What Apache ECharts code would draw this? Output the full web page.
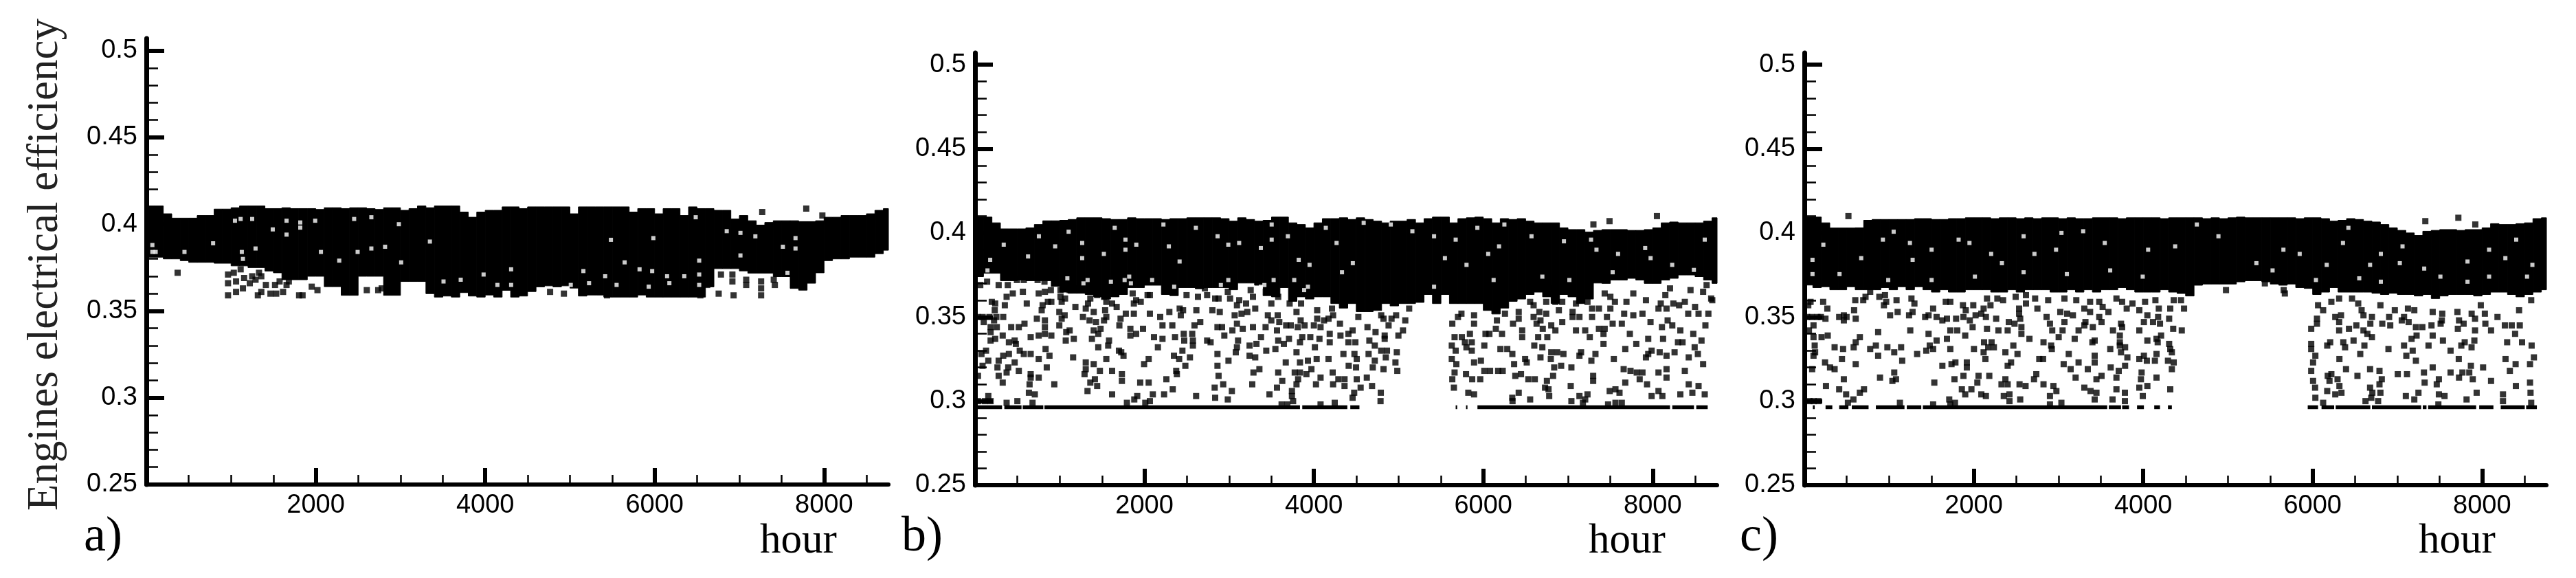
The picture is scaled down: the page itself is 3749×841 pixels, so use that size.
<!DOCTYPE html>
<html><head><meta charset="utf-8">
<script src="https://cdn.jsdelivr.net/npm/echarts@6/dist/echarts.min.js"></script>
<style>html,body{margin:0;padding:0;background:#fff}#c{width:3749px;height:841px}</style></head>
<body><div id="c"></div>
<script>
const yTicks=[0.25,0.3,0.35,0.4,0.45,0.5];
const yMinor=[0.26,0.27,0.28,0.29,0.31,0.32,0.33,0.34,0.36,0.37,0.38,0.39,0.41,0.42,0.43,0.44,0.46,0.47,0.48,0.49];
const xTicks=[2000,4000,6000,8000];
const xMinor=[500,1000,1500,2500,3000,3500,4500,5000,5500,6500,7000,7500,8500];
const bandHours=[0,100,200,300,400,500,600,700,800,900,1000,1100,1200,1300,1400,1500,1600,1700,1800,1900,2000,2100,2200,2300,2400,2500,2600,2700,2800,2900,3000,3100,3200,3300,3400,3500,3600,3700,3800,3900,4000,4100,4200,4300,4400,4500,4600,4700,4800,4900,5000,5100,5200,5300,5400,5500,5600,5700,5800,5900,6000,6100,6200,6300,6400,6500,6600,6700,6800,6900,7000,7100,7200,7300,7400,7500,7600,7700,7800,7900,8000,8100,8200,8300,8400,8500,8600,8700];
const topA=[.4105,.4105,.406,.4035,.4035,.4035,.405,.405,.4087,.4087,.4095,.4105,.4105,.4105,.409,.409,.4095,.409,.409,.409,.4085,.4095,.4095,.409,.4095,.4095,.409,.4085,.4095,.4095,.408,.409,.4105,.4095,.4105,.4105,.4105,.407,.404,.407,.408,.408,.41,.41,.409,.41,.41,.41,.41,.41,.406,.41,.41,.41,.41,.41,.41,.407,.409,.409,.406,.409,.409,.405,.41,.409,.409,.408,.408,.403,.405,.402,.3995,.401,.402,.402,.402,.4015,.4015,.402,.404,.404,.405,.405,.405,.406,.408,.409];
const botA=[.381,.381,.38,.38,.379,.378,.378,.378,.3775,.3775,.376,.376,.375,.375,.373,.372,.368,.368,.368,.37,.37,.364,.364,.359,.359,.37,.37,.37,.359,.359,.367,.367,.367,.36,.358,.3586,.358,.3606,.3586,.358,.3592,.358,.3619,.358,.3586,.3612,.3639,.3645,.3639,.3645,.3632,.3586,.3592,.3592,.358,.358,.358,.358,.3592,.358,.358,.358,.358,.358,.358,.358,.3639,.3744,.3744,.3744,.3731,.3718,.3718,.3718,.3698,.3698,.363,.362,.366,.372,.379,.38,.38,.381,.381,.381,.383,.385];
const topB=[.4094,.4094,.406,.4024,.4024,.4024,.403,.405,.4072,.4072,.4075,.408,.409,.409,.409,.4085,.408,.408,.409,.4085,.4085,.4085,.408,.4085,.4085,.409,.409,.409,.409,.4085,.407,.409,.408,.407,.4075,.4094,.4094,.406,.405,.403,.406,.4085,.4085,.409,.408,.409,.408,.407,.406,.407,.407,.408,.406,.4085,.4094,.4094,.406,.4085,.409,.4094,.4085,.406,.4085,.408,.4085,.407,.406,.406,.406,.403,.402,.402,.4005,.4015,.402,.402,.402,.4015,.4015,.402,.403,.406,.4065,.406,.406,.406,.407,.409];
const botB=[.374,.376,.376,.3716,.3716,.372,.3716,.3716,.3716,.3682,.3648,.3641,.3641,.3634,.362,.3607,.362,.3634,.3675,.3675,.3689,.3689,.3634,.3627,.3675,.3675,.3668,.3675,.3675,.3675,.3662,.3702,.3702,.3689,.3627,.362,.3675,.3593,.362,.3607,.362,.362,.358,.3553,.358,.3532,.3532,.3539,.358,.3566,.358,.358,.3587,.3634,.358,.3634,.358,.358,.358,.358,.3539,.3518,.3553,.3593,.3607,.3634,.3648,.362,.358,.3634,.362,.358,.3607,.3702,.37,.372,.372,.373,.372,.37,.37,.372,.373,.375,.375,.374,.372,.37];
const topC=[.4094,.4094,.406,.4029,.4029,.4029,.403,.4075,.408,.408,.408,.408,.408,.4085,.4085,.408,.408,.4085,.4085,.409,.409,.409,.4085,.409,.409,.4085,.409,.4085,.409,.409,.4085,.409,.4085,.4085,.409,.409,.409,.4085,.409,.409,.409,.409,.4085,.409,.409,.409,.409,.4085,.409,.4085,.409,.4094,.409,.409,.409,.409,.409,.409,.4085,.409,.409,.4085,.407,.4075,.4085,.408,.407,.4065,.405,.403,.4015,.4,.3985,.401,.4015,.402,.402,.4015,.402,.402,.403,.4055,.405,.405,.4055,.406,.4085,.409];
const botC=[.369,.3675,.368,.3662,.3662,.368,.3662,.3662,.3662,.3675,.3662,.368,.3662,.368,.3662,.3648,.3662,.3648,.3648,.3662,.3662,.3662,.3648,.3648,.3662,.3648,.3662,.3662,.3662,.3648,.3648,.3662,.3648,.3662,.3648,.3662,.3662,.3675,.3662,.3648,.3648,.3648,.3662,.3648,.364,.3625,.3689,.3696,.3696,.3696,.3696,.3709,.3716,.3716,.3709,.3696,.3689,.3696,.3675,.367,.3634,.3648,.3675,.3648,.3648,.3648,.3648,.3641,.3634,.3641,.3634,.3634,.3625,.3634,.361,.3625,.3634,.3634,.3634,.3625,.3634,.3648,.3648,.3634,.362,.3634,.3648,.3662];
const baseEff=0.2964;
const baseRunsB=[[22,319],[346,549],[563,806],[820,3836],[3863,4395],[4430,4538],[5674,5692],[5796,5813],[5931,8204],[8231,8487],[8514,8649]];
const baseRunsC=[[100,122],[250,330],[411,520],[560,758],[844,1182],[1209,1380],[1399,3575],[3594,3738],[3751,3832],[3927,4008],[4130,4198],[4292,4338],[5942,6064],[6105,6254],[6272,6681],[6700,7281],[7300,7344],[7363,7930],[7966,8134],[8220,8504],[8520,8647]];
const pointsA=[[369,.372],[964,.371],[1032,.372],[1113,.374],[964,.366],[1059,.367],[1154,.369],[1249,.37],[1330,.372],[964,.359],[1059,.361],[1140,.363],[1221,.366],[1289,.368],[1357,.37],[1316,.359],[1357,.361],[1411,.365],[1465,.36],[1533,.36],[1519,.365],[1573,.367],[1614,.361],[1655,.365],[1682,.367],[1844,.359],[1803,.359],[1952,.364],[2020,.362],[2155,.366],[2602,.362],[2737,.362],[2778,.363],[4766,.361],[4929,.36],[5357,.361],[5438,.359],[6783,.371],[6918,.371],[6918,.367],[6756,.36],[6932,.359],[7081,.368],[7081,.365],[7257,.367],[7257,.363],[7257,.359],[7406,.368],[7419,.365],[7270,.407],[6621,.365],[6363,.36],[6540,.359],[7790,.409],[7980,.405]];
const gapsA=[[71,.384],[71,.388],[110,.384],[1113,.403],[1046,.402],[1249,.403],[1655,.402],[1993,.402],[1817,.401],[1817,.398],[1492,.397],[1655,.394],[788,.389],[450,.384],[1127,.384],[1289,.386],[2061,.384],[2818,.387],[2656,.386],[2453,.403],[2656,.404],[2981,.4],[3347,.39],[2277,.379],[1140,.38],[3008,.378],[2494,.384],[6485,.404],[6851,.396],[7013,.395],[7189,.393],[5985,.392],[7514,.387],[7013,.382],[6526,.379],[6526,.371],[5822,.374],[5646,.378],[5484,.391],[4306,.374],[3981,.371],[4144,.365],[4306,.365],[5226,.366],[5416,.37],[6147,.37],[6174,.366],[6350,.37],[6526,.365],[5159,.373],[3508,.367],[3711,.368],[5551,.365],[5930,.364],[5010,.365],[5971,.373],[7663,.386],[7663,.392],[7568,.372]];
const pointsB=[[373,.362],[446,.364],[565,.365],[752,.364],[825,.365],[895,.366],[611,.358],[352,.357],[198,.359],[238,.358],[233,.354],[787,.354],[798,.357],[860,.359],[901,.359],[995,.353],[1058,.351],[1023,.349],[995,.345],[333,.35],[252,.35],[170,.35],[90,.35],[30,.35],[103,.347],[184,.344],[184,.341],[257,.344],[225,.348],[427,.344],[517,.344],[584,.346],[730,.349],[825,.348],[825,.344],[825,.34],[901,.339],[752,.339],[657,.338],[327,.339],[238,.337],[184,.336],[400,.335],[468,.336],[482,.334],[833,.331],[528,.33],[576,.328],[657,.328],[879,.327],[752,.325],[400,.328],[333,.327],[279,.324],[468,.323],[157,.324],[130,.33],[76,.328],[89,.321],[265,.32],[392,.32],[373,.317],[517,.318],[279,.315],[657,.316],[657,.314],[752,.314],[847,.32],[35,.315],[327,.311],[644,.31],[936,.31],[636,.305],[706,.304],[157,.303],[373,.299],[500,.3],[679,.299],[116,.3],[35,.3],[184,.3],
[1117,.342],[1077,.341],[1071,.336],[1166,.337],[1158,.326],[1307,.323],[1401,.322],[1550,.325],[1455,.332],[1572,.333],[1582,.336],[1380,.337],[1401,.342],[1482,.343],[1455,.34],[1352,.348],[1428,.347],[1274,.35],[1550,.35],[1523,.348],[1401,.353],[1536,.354],[1307,.355],[1185,.356],[1704,.345],[1718,.349],[1780,.352],[1875,.352],[1834,.343],[1834,.339],[1902,.34],[1983,.343],[2064,.352],[2186,.35],[2294,.353],[2416,.355],[2456,.354],[2429,.351],[2213,.345],[2329,.345],[2113,.338],[2213,.337],[2361,.338],[2159,.332],[1726,.329],[1753,.327],[1699,.33],[2050,.325],[1996,.322],[2348,.327],[2410,.325],[2537,.326],[2483,.321],[2448,.33],[2375,.318],[2383,.316],[1293,.316],[1307,.319],[1474,.318],[1618,.318],[1734,.316],[1734,.312],[1361,.311],[1415,.313],[1442,.309],[1328,.306],[1618,.304],[1915,.303],[1880,.301],[2099,.304],[2232,.304],[2334,.307],[2259,.313],[2050,.311],[1950,.311],[1793,.299],[2010,.299],[2064,.3],
[2464,.34],[2470,.336],[2564,.34],[2572,.336],[2572,.333],[2740,.336],[2781,.335],[2591,.345],[2659,.347],[2862,.344],[2916,.344],[2943,.339],[3105,.336],[3038,.342],[3092,.346],[3160,.343],[3281,.344],[3430,.344],[3565,.342],[2802,.354],[2889,.353],[2613,.354],[3065,.351],[3146,.352],[3457,.351],[3573,.351],[3498,.348],[3592,.347],[3673,.345],[3727,.345],[3809,.344],[3890,.345],[4000,.345],[4079,.344],[3844,.348],[4039,.349],[4120,.348],[2862,.328],[2862,.321],[2992,.324],[3078,.329],[3092,.332],[3241,.333],[3322,.334],[3376,.338],[3579,.336],[3438,.33],[3546,.331],[3241,.327],[3308,.326],[3706,.337],[3646,.334],[3836,.335],[3863,.338],[3958,.338],[4066,.337],[4012,.332],[3795,.329],[3668,.323],[3836,.323],[3930,.324],[4033,.325],[3971,.319],[3836,.317],[3774,.317],[3912,.316],[3579,.317],[3627,.312],[3357,.319],[3287,.317],[3814,.313],[3795,.31],[4079,.314],[4025,.31],[3565,.308],[3273,.31],[2930,.31],[2829,.308],[3032,.306],[2984,.301],[2835,.302],[2610,.303],[2875,.315],[3476,.304],[3741,.306],[3741,.303],[3755,.3],[3619,.298],[3687,.298],[4079,.298],
[4214,.355],[4227,.351],[4173,.349],[4308,.346],[4525,.35],[4795,.351],[4822,.349],[4971,.351],[4917,.349],[4882,.345],[5079,.348],[5125,.355],[4633,.344],[4457,.342],[4728,.341],[5052,.342],[4998,.339],[4836,.339],[4836,.337],[4187,.34],[4187,.335],[4314,.339],[4408,.34],[4408,.335],[4490,.335],[4655,.336],[4719,.333],[4795,.33],[4863,.33],[4979,.329],[4349,.328],[4479,.328],[4646,.328],[4849,.326],[4506,.325],[4719,.324],[4963,.323],[4173,.325],[4411,.321],[4498,.32],[4695,.32],[4822,.319],[4985,.318],[4222,.317],[4289,.313],[4362,.313],[4506,.313],[4625,.314],[4227,.31],[4362,.309],[4552,.308],[4687,.309],[4790,.305],[4476,.305],[4457,.302],[4787,.3],[4246,.299],
[5742,.352],[5701,.35],[5891,.351],[5891,.346],[5634,.346],[6148,.343],[6026,.34],[6072,.34],[6161,.348],[6256,.352],[6418,.353],[6418,.349],[6351,.346],[6221,.34],[6459,.342],[6594,.35],[6629,.346],[6675,.348],[6802,.345],[6702,.343],[6851,.342],[6459,.338],[6648,.338],[6756,.338],[5661,.338],[5628,.333],[5747,.338],[5783,.335],[5842,.34],[5864,.335],[5801,.332],[5864,.33],[5674,.33],[6012,.333],[6202,.331],[6283,.331],[6343,.328],[6602,.333],[6697,.332],[5628,.325],[5682,.322],[5891,.323],[5972,.324],[6364,.322],[6494,.325],[6513,.323],[6675,.326],[6797,.325],[6802,.329],[6873,.329],[6946,.328],[7135,.327],[7154,.329],[7324,.328],[7276,.324],[7541,.325],[7419,.334],[7676,.331],[7257,.338],[5661,.317],[5796,.316],[5634,.313],[5869,.313],[5964,.313],[6012,.318],[6080,.318],[6175,.318],[6229,.318],[6378,.315],[6445,.316],[6532,.313],[6608,.313],[6751,.312],[6824,.315],[6837,.32],[6919,.321],[7040,.32],[7297,.315],[7297,.312],[7657,.319],[7738,.318],[7811,.317],[7879,.317],[8068,.317],[8163,.319],[8163,.314],[7676,.311],[7846,.313],[7933,.31],[5653,.308],[5823,.305],[5891,.304],[6418,.305],[6553,.301],[6729,.308],[6770,.307],[6778,.303],[7032,.309],[7040,.3],[7135,.303],[7230,.304],[7203,.301],[7492,.306],[7560,.307],[7608,.305],[7987,.303],[8068,.306],[8114,.303],[8326,.304],[6345,.3],[6342,.302],[7473,.298],[7560,.299],[7635,.299],[7176,.299],[7987,.33],[7947,.328],[7920,.326],[8082,.329],[8163,.327],[8258,.329],[7947,.337],[8122,.337],[8298,.335],[8352,.335],[7806,.334],[7094,.342],[7203,.342],[7365,.343],[7433,.343],[7419,.34],[7730,.34],[6932,.347],[7054,.35],[7135,.35],[7284,.35],[7974,.347],[8176,.348],[8109,.344],[8231,.345],[8326,.342],[7635,.346],[7527,.346],[7460,.35],[7771,.351],[7879,.352],[7663,.352],[7284,.355],[7500,.355],[8068,.355],[8163,.355],[6892,.354],[7054,.353],[6662,.353],[6743,.352],
[8500,.356],[8419,.352],[8541,.352],[8657,.352],[8622,.345],[8479,.34],[8576,.336],[8495,.332],[8533,.328],[8425,.326],[8595,.322],[8379,.318],[8425,.31],[8541,.309],[8468,.305],[8614,.304],[8703,.36],
[62,.369],[143,.371],[279,.369],[387,.369],[495,.372],[576,.372],[739,.372],[820,.371],[1009,.366],[1117,.366],[1198,.367],[1009,.362],[1023,.359],[1063,.361],[1361,.361],[1334,.358],[1442,.363],[1523,.362],[1550,.359],[1618,.358],[1672,.356],[2037,.363],[1902,.36],[1875,.358],[1956,.359],[1861,.364],[2064,.363],[2497,.363],[2632,.362],[2740,.363],[2875,.361],[2835,.361],[3011,.361],[3119,.36],[3092,.357],[3214,.353],[3308,.355],[3200,.358],[3281,.362],[3498,.358],[3579,.362],[2713,.367],[2984,.365],[3254,.366],[3714,.358],[3795,.353],[3849,.358],[4039,.354],
[6743,.359],[6851,.359],[6932,.359],[7094,.358],[7230,.359],[7365,.355],[7054,.364],[7243,.367],[6959,.367],[6770,.367],[6553,.359],[6594,.357],[7433,.364],[7500,.362],[7554,.359],[7771,.364],[7690,.359],[7920,.36],[8095,.358],[8244,.358],[8312,.357],[8149,.363],[8204,.367],[8690,.361],[8446,.366],[8379,.359],[8636,.369],[8595,.365],[7490,.407],[8050,.41],[7300,.405]];
const gapsB=[[89,.371],[1090,.373],[1280,.37],[1604,.371],[1820,.374],[1766,.372],[2091,.372],[3173,.368],[3525,.372],[3768,.372],[3416,.369],[3930,.368],[2902,.369],[1105,.4007],[1776,.396],[1904,.393],[1776,.39],[1265,.394],[1521,.3875],[626,.386],[147,.3777],[179,.384],[3502,.396],[3374,.391],[3118,.394],[2990,.393],[2288,.392],[2415,.383],[4460,.382],[3821,.384],[4268,.394],[4141,.403],[3502,.405],[3693,.398],[2863,.398],[2607,.403],[2224,.405],[1649,.403],[1265,.385],[946,.392],[339,.393],[754,.398],[5674,.396],[5419,.398],[5163,.401],[4908,.405],[4588,.406],[5930,.403],[6249,.405],[6569,.398],[6952,.395],[7591,.3875],[7911,.391],[8614,.396],[7975,.385],[7527,.3766],[7975,.368],[6697,.374],[6058,.3875],[5802,.381],[5547,.385],[8486,.378],[8230,.381],[7272,.396],[7336,.39],[6186,.392],[5419,.368],[6122,.372],[7016,.372],[8295,.37],[8678,.368],[4332,.3766],[3949,.381],[2990,.372],[3374,.368],[2351,.368],[1840,.37],[1329,.372],[3885,.366]];
const pointsC=[[73,.359],[46,.357],[222,.359],[271,.355],[601,.36],[695,.36],[722,.362],[777,.365],[871,.368],[885,.362],[952,.363],[966,.359],[939,.357],[1088,.36],[1264,.361],[1299,.358],[1520,.355],[587,.354],[411,.35],[466,.351],[498,.35],[466,.348],[606,.349],[249,.349],[87,.35],[154,.35],[195,.35],[33,.35],[1101,.353],[1012,.351],[1236,.351],[1277,.353],[1426,.35],[1466,.351],[1561,.35],[1629,.348],[1683,.349],[1791,.349],[1878,.35],[1953,.348],[2021,.351],[1986,.344],[2143,.35],[2089,.352],[2116,.355],[2197,.357],[2264,.349],[1994,.357],[1872,.357],[1905,.354],[1669,.359],[1723,.359],[2156,.361],[2278,.361],[2346,.36],[2494,.362],[2616,.363],[2724,.361],[2616,.358],[2535,.355],[2535,.352],[2751,.355],[2548,.349],[2413,.347],[2481,.346],[2562,.344],[2562,.34],[2657,.337],[2400,.342],[2291,.342],[2156,.343],[1723,.342],[1805,.342],[1899,.339],[1683,.337],[1561,.336],[1466,.34],[1250,.342],[871,.341],[108,.345],[54,.342],[108,.338],[203,.338],[276,.339],[655,.338],[606,.335],[122,.333],[127,.329],[108,.327],[357,.332],[457,.331],[582,.332],[777,.331],[844,.333],[980,.332],[1061,.329],[1142,.332],[1331,.328],[871,.327],[1439,.33],[1480,.333],[1520,.331],[1723,.331],[2002,.331],[2121,.335],[2210,.335],[2170,.332],[2237,.332],[2467,.333],[2373,.329],[2516,.328],[2116,.329],[2137,.325],[2773,.325],[244,.323],[303,.32],[357,.319],[444,.325],[606,.322],[1155,.324],[1629,.321],[1737,.322],[1783,.323],[1918,.323],[1918,.32],[2400,.321],[2440,.323],[92,.319],[466,.313],[893,.314],[1061,.317],[1082,.313],[1039,.312],[1534,.311],[1772,.313],[1878,.315],[2056,.315],[2183,.315],[2042,.311],[2373,.313],[2327,.31],[2400,.31],[2540,.31],[2611,.309],[2738,.316],[2711,.313],[255,.309],[411,.307],[493,.304],[655,.305],[704,.307],[1859,.307],[1899,.304],[1972,.307],[2089,.304],[2143,.303],[2354,.303],[2421,.304],[2421,.3],[2548,.301],[579,.301],[1710,.301],[1128,.299],[514,.299],[108,.3],[168,.3],[60,.3],[1520,.298],[1723,.298],[1778,.299],
[2878,.36],[3070,.361],[3210,.36],[3373,.359],[3481,.359],[3521,.356],[3305,.355],[3373,.353],[3589,.353],[3684,.361],[3751,.359],[3873,.358],[3805,.355],[4022,.359],[3954,.354],[4144,.36],[4184,.355],[4360,.36],[4319,.355],[4446,.36],[4482,.355],[3021,.353],[3102,.352],[3170,.351],[2859,.35],[2899,.346],[3070,.347],[3481,.35],[3508,.347],[3318,.347],[3305,.345],[3405,.344],[3237,.342],[3048,.342],[2926,.342],[3002,.338],[3738,.346],[3751,.344],[3643,.342],[3724,.339],[3954,.342],[4049,.351],[4176,.35],[4008,.347],[4116,.347],[4198,.346],[4306,.349],[4354,.343],[4455,.342],[2823,.335],[2913,.333],[2921,.331],[3191,.337],[3427,.336],[3400,.335],[3724,.335],[3724,.333],[3786,.332],[3611,.331],[4049,.336],[4157,.337],[4211,.339],[4171,.335],[4306,.334],[4319,.331],[4338,.329],[3121,.328],[3738,.329],[3813,.326],[3427,.327],[3427,.323],[2818,.325],[3061,.322],[3237,.323],[3143,.319],[3346,.319],[3616,.32],[3786,.321],[3954,.325],[4008,.327],[4043,.324],[4138,.324],[4157,.328],[4292,.324],[4360,.323],[4338,.319],[3711,.318],[3684,.314],[3981,.317],[4157,.314],[3973,.313],[3202,.314],[3508,.315],[3448,.313],[2823,.31],[2940,.309],[2975,.306],[2899,.303],[3305,.308],[3378,.306],[3448,.305],[3427,.301],[3684,.307],[3784,.305],[3784,.3],[3638,.301],[3995,.303],[4049,.309],[3954,.308],[4319,.307],[3034,.299],[2899,.298],[4977,.366],[5436,.37],[5658,.366],[5672,.364],
[6064,.357],[6124,.354],[6051,.349],[6051,.346],[5983,.343],[6221,.359],[6313,.361],[6465,.361],[6538,.358],[6578,.354],[6600,.351],[6267,.35],[6335,.351],[6313,.347],[6313,.342],[6429,.343],[6516,.345],[6600,.342],[6646,.34],[6700,.338],[6700,.35],[6681,.346],[6903,.35],[6822,.346],[6916,.345],[6800,.357],[6970,.354],[7125,.355],[7200,.354],[7079,.35],[7052,.348],[7133,.347],[7219,.344],[7295,.344],[7403,.345],[7525,.348],[7511,.346],[7417,.353],[7530,.352],[7709,.353],[7877,.352],[8033,.352],[8182,.35],[7917,.349],[7728,.348],[7782,.346],[7714,.343],[7917,.342],[8039,.346],[8106,.342],[8269,.345],[8350,.345],[8445,.345],[8390,.34],[8580,.36],[8437,.354],[7985,.357],[5983,.334],[5983,.331],[6207,.335],[6172,.333],[6362,.335],[6383,.332],[6483,.336],[6611,.333],[6562,.328],[6895,.331],[7079,.333],[7181,.33],[7168,.337],[7227,.339],[7417,.339],[7368,.333],[7538,.336],[7628,.33],[7755,.333],[7795,.335],[7876,.332],[7909,.336],[8296,.335],[8472,.335],[8585,.333],[6032,.327],[6005,.323],[6316,.325],[7106,.327],[7219,.324],[7725,.325],[8277,.325],[8396,.322],[8566,.322],[8612,.326],[5983,.318],[6394,.319],[6678,.319],[6789,.318],[6178,.315],[6221,.316],[6529,.315],[7005,.316],[7114,.316],[7314,.317],[7417,.32],[7628,.317],[7768,.317],[7849,.317],[7728,.314],[7868,.321],[8012,.32],[8328,.318],[6005,.312],[6199,.312],[6294,.313],[6816,.313],[6789,.31],[7322,.311],[7490,.313],[7465,.31],[7890,.313],[8106,.312],[8566,.311],[8399,.309],[6029,.308],[6172,.306],[6267,.304],[6316,.309],[6340,.305],[6678,.308],[6705,.305],[6800,.305],[6032,.302],[6624,.3],[6692,.302],[6773,.3],[7100,.303],[7249,.305],[7200,.301],[7490,.304],[7557,.303],[7817,.301],[7936,.305],[8247,.304],[8247,.3],[8572,.305],[8580,.299],[6124,.299],[7484,.298],[520,.41],[7330,.407],[7720,.409],[7920,.405]];
const gapsC=[[1054,.4007],[1246,.394],[1278,.384],[1821,.396],[1949,.394],[1502,.39],[927,.396],[224,.393],[96,.384],[671,.385],[3546,.394],[3291,.401],[3035,.4],[2588,.398],[2332,.382],[2971,.39],[2716,.3875],[2205,.3875],[5847,.3875],[5655,.39],[7029,.382],[7061,.392],[6805,.3875],[6358,.394],[8083,.39],[8403,.396],[7828,.383],[6678,.381],[8594,.381],[8531,.374],[8083,.374],[7508,.374],[6166,.381],[96,.3755],[415,.3755],[990,.372],[1502,.372],[2013,.374],[2588,.3766],[3099,.3755],[3610,.3777],[3994,.374],[7317,.3788],[6805,.371],[4377,.392],[4888,.398],[5336,.382],[5527,.3777],[4058,.39],[6039,.372],[6550,.373],[7828,.371],[8275,.385],[4633,.405],[6422,.403]];

const panels=[
 {left:213,top:56,height:649,topE:topA,botE:botA,points:pointsA,gaps:gapsA,runs:[]},
 {left:1419,top:77,height:629,topE:topB,botE:botB,points:pointsB,gaps:gapsB,runs:baseRunsB},
 {left:2626,top:77,height:629,topE:topC,botE:botC,points:pointsC,gaps:gapsC,runs:baseRunsC}
];
const texts=[['a)',122,818,72],['hour',1106,818,61],['b)',1312,818,72],['hour',2312,818,61],['c)',2532,818,72],['hour',3520,818,61]];
const grid=[],xAxis=[],yAxis=[],series=[];
panels.forEach((p,i)=>{
 grid.push({left:p.left,top:p.top,width:1080,height:p.height,containLabel:false});
 const xb={gridIndex:i,type:'value',min:0,max:8760,position:'bottom',splitLine:{show:false},z:6};
 const yb={gridIndex:i,type:'value',min:0.25,max:0.507,position:'left',splitLine:{show:false},z:6};
 xAxis.push({...xb,axisLine:{show:true,onZero:false,lineStyle:{color:'#000',width:6}},
  axisTick:{show:true,inside:true,length:24,lineStyle:{color:'#000',width:6},customValues:xTicks},
  axisLabel:{show:true,color:'#000',fontFamily:'Liberation Sans',fontSize:38,margin:12,customValues:xTicks,formatter:v=>String(v)}});
 xAxis.push({...xb,axisLine:{show:false},axisTick:{show:true,inside:true,length:14,lineStyle:{color:'#000',width:2.5},customValues:xMinor},axisLabel:{show:false}});
 yAxis.push({...yb,axisLine:{show:true,onZero:false,lineStyle:{color:'#000',width:7}},
  axisTick:{show:true,inside:true,length:26,lineStyle:{color:'#000',width:6},customValues:yTicks},
  axisLabel:{show:true,color:'#000',fontFamily:'Liberation Sans',fontSize:38,margin:13,customValues:yTicks,formatter:v=>String(+v.toFixed(2))}});
 yAxis.push({...yb,axisLine:{show:false},axisTick:{show:true,inside:true,length:17,lineStyle:{color:'#000',width:2.5},customValues:yMinor},axisLabel:{show:false}});
 const xi=i*2,yi=i*2;
 series.push({type:'custom',name:'band',xAxisIndex:xi,yAxisIndex:yi,z:2,silent:true,
  data:bandHours.map((h,k)=>[h,p.topE[k],p.botE[k]]),encode:{x:0,y:[1,2]},
  renderItem:(params,api)=>{
   const k=params.dataIndex,h=bandHours[k],n=k+1<bandHours.length?bandHours[k+1]:8760;
   const a=api.coord([h,api.value(1)]),b=api.coord([n,api.value(2)]);
   return {type:'rect',shape:{x:a[0],y:a[1],width:b[0]-a[0],height:b[1]-a[1]},style:{fill:'#000',stroke:'#000',lineWidth:1}};
  }});
 series.push({type:'scatter',name:'gaps',xAxisIndex:xi,yAxisIndex:yi,z:3,data:p.gaps,symbol:'rect',symbolSize:6,silent:true,itemStyle:{color:'#fff'}});
 if(p.runs.length){
  const d=[];p.runs.forEach(r=>{d.push([r[0],baseEff],[r[1],baseEff],[r[1],null]);});
  series.push({type:'line',name:'floor',xAxisIndex:xi,yAxisIndex:yi,z:4,data:d,showSymbol:false,silent:true,connectNulls:false,lineStyle:{color:'#000',width:5.5,cap:'butt'}});
 }
 series.push({type:'scatter',name:'points',xAxisIndex:xi,yAxisIndex:yi,z:5,data:p.points,symbol:'rect',symbolSize:9,silent:true,itemStyle:{color:'#000'}});
});
const graphic=texts.map(t=>({type:'text',x:t[1],y:t[2],style:{text:t[0],font:t[3]+'px "Liberation Serif"',fill:'#000',verticalAlign:'bottom'}}));
graphic.push({type:'text',x:98,y:743,rotation:Math.PI/2,style:{text:'Engines electrical efficiency',font:'63px "Liberation Serif"',fill:'#222',verticalAlign:'bottom'}});
const chart=echarts.init(document.getElementById('c'),null,{renderer:'canvas'});
chart.setOption({animation:false,backgroundColor:'#fff',grid,xAxis,yAxis,series,graphic});
</script></body></html>
